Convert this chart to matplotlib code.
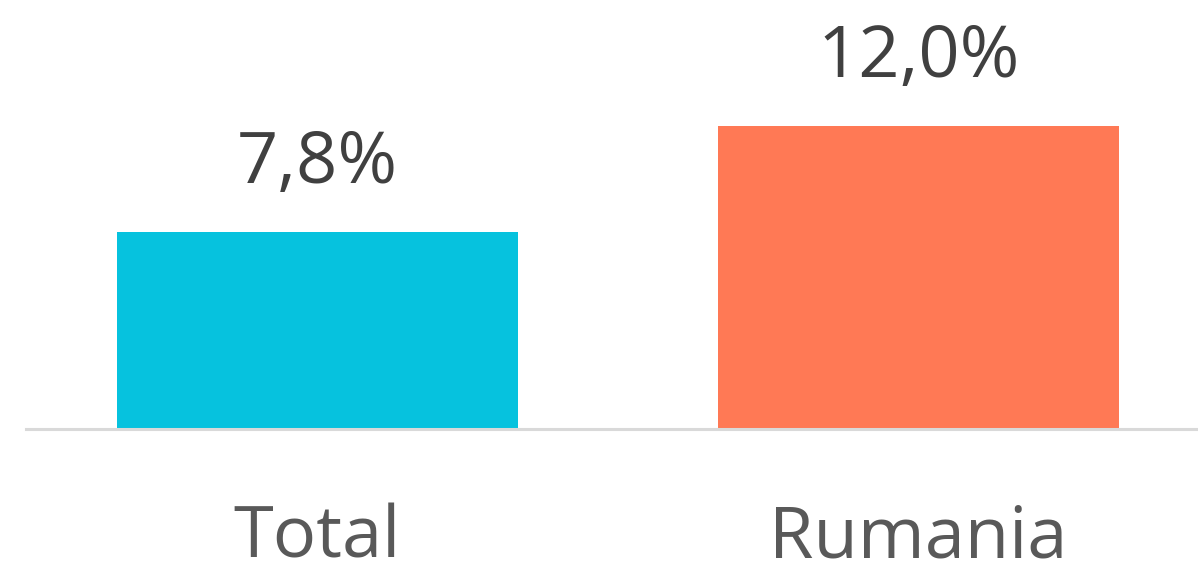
import matplotlib
matplotlib.use('Agg')
import matplotlib.pyplot as plt

categories = ['Total', 'Rumania']
values = [7.8, 12.0]
value_labels = ['7,8%', '12,0%']
bar_colors = ['#06C2DE', '#FF7955']

plt.rcParams['font.family'] = ['Open Sans', 'DejaVu Sans']

fig = plt.figure(figsize=(11.98, 5.65), dpi=100)
ax = fig.add_axes([26 / 1198, (565 - 429) / 565, 1 - 26 / 1198, 429 / 565])

x = list(range(len(categories)))
bars = ax.bar(x, values, width=0.667, color=bar_colors)

ax.set_xlim(-0.484, 1.465)
ax.set_ylim(0, 17.0)

for xi, v, lab in zip(x, values, value_labels):
    ax.annotate(lab, xy=(xi, v), xytext=(0, 35.5), textcoords='offset points',
                ha='center', va='baseline', fontsize=52, color='#404040')
    ax.annotate(categories[xi], xy=(xi, 0), xycoords=('data', 'axes fraction'),
                xytext=(0, -92.5), textcoords='offset points',
                ha='center', va='baseline', fontsize=52, color='#595959',
                annotation_clip=False)

for s in ['top', 'right', 'left']:
    ax.spines[s].set_visible(False)
ax.spines['bottom'].set_color('#D9D9D9')
ax.spines['bottom'].set_linewidth(2.2)
ax.set_xticks([])
ax.set_yticks([])

fig.savefig('out.png', dpi=100)
